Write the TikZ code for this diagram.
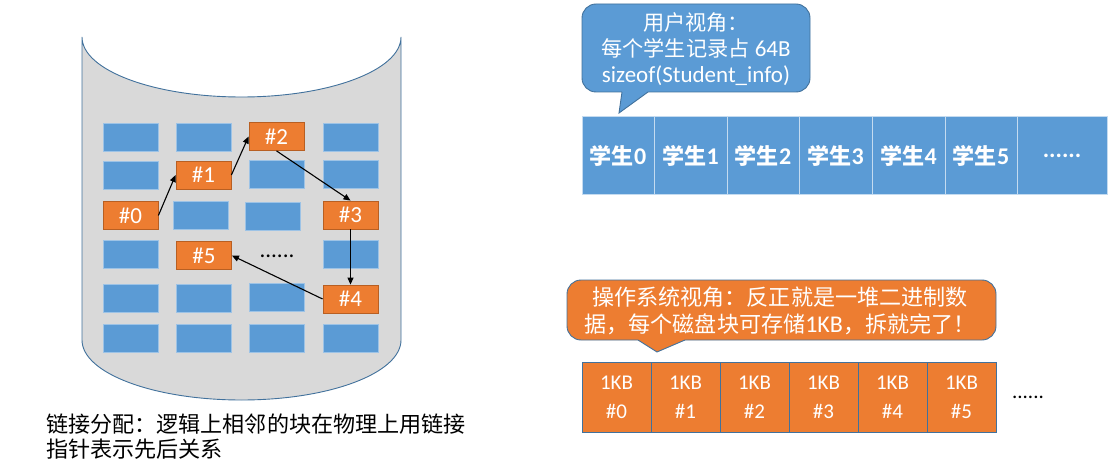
\documentclass[tikz,border=0pt]{standalone}
\usepackage{fontspec}
\setmainfont{Carlito}
\newfontfamily\cjk[Scale=0.92]{Noto Sans CJK SC}
\usetikzlibrary{arrows.meta}
\definecolor{cblue}{HTML}{5B9BD5}
\definecolor{corange}{HTML}{ED7D31}
\definecolor{cedge}{HTML}{41719C}
\definecolor{cgray}{HTML}{D9D9D9}
\definecolor{clight}{HTML}{9DC3E6}
\definecolor{cobord}{HTML}{B85F22}
\tikzset{
 blk/.style={fill=cblue, draw=clight, line width=0.6pt, minimum width=55pt, minimum height=28pt, inner sep=0pt},
 oblk/.style={fill=corange, draw=cobord, line width=0.8pt, minimum width=55pt, minimum height=28pt, inner sep=0pt, text=white, font=\fontsize{23}{26}\selectfont},
 link/.style={-{Triangle[length=7pt,width=6pt]}, line width=1.1pt},
 stud/.style={fill=cblue, draw=clight!60!white, line width=1pt, minimum height=77pt, inner sep=0pt, text=white, font=\fontsize{24}{26}\selectfont\bfseries},
 kb/.style={fill=corange, draw=cedge, line width=0.8pt, minimum width=69pt, minimum height=70pt, inner sep=0pt, text=white, align=center, font=\fontsize{21}{29}\selectfont},
 callout/.style={draw=cedge, line width=0.9pt, rounded corners=14pt},
 txt/.style={font=\fontsize{23}{26}\selectfont, inner sep=0pt},
}
\begin{document}
\begin{tikzpicture}[x=1pt,y=-1pt]
\useasboundingbox (0,0) rectangle (1119,476);
% cylinder
\draw[fill=cgray, draw=cedge, line width=0.9pt] (82,37) -- (82,340)
  arc[start angle=180, end angle=0, x radius=159.5, y radius=60] -- (401,37)
  arc[start angle=0, end angle=180, x radius=159.5, y radius=60] -- cycle;
% blue blocks
\node[blk] (b11) at (130.5,137.5) {};
\node[blk] (b12) at (203.5,137.5) {};
\node[blk] (b14) at (350.5,137) {};
\node[blk] (b21) at (130.5,175) {};
\node[blk] (b23) at (276.5,174.5) {};
\node[blk] (b24) at (350.5,174.5) {};
\node[blk] (b32) at (201,215.5) {};
\node[blk] (b33) at (272.5,216.5) {};
\node[blk] (b41) at (130.5,254.5) {};
\node[blk] (b44) at (350.5,254.5) {};
\node[blk] (b51) at (130.5,298) {};
\node[blk] (b52) at (203.5,298) {};
\node[blk] (b53) at (276.5,297.5) {};
\node[blk] (b61) at (130.5,338.5) {};
\node[blk] (b62) at (203.5,338.5) {};
\node[blk] (b63) at (276.5,338) {};
\node[blk] (b64) at (350.5,338) {};
% orange blocks
\node[oblk] (n0) at (130.5,215.5) {\#0};
\node[oblk] (n1) at (203.5,175) {\#1};
\node[oblk] (n2) at (276.5,136.5) {\#2};
\node[oblk] (n3) at (350.5,215) {\#3};
\node[oblk] (n4) at (350.5,299) {\#4};
\node[oblk] (n5) at (204,255.5) {\#5};
\node[txt] (dots1) at (277,256) {......};
% links
\draw[link] (n0.east) -- (n1.west);
\draw[link] (n1.east) -- (n2.west);
\draw[link] (n2.south) -- (n3.north);
\draw[link] (n3.south) -- (n4.north);
\draw[link] (n4.west) -- (n5.east);
% caption
\node[anchor=west, align=left, font=\fontsize{24}{25}\selectfont, inner sep=0pt] (cap) at (46,437)
  {{\cjk 链接分配：逻辑上相邻的块在物理上用链接}\\{\cjk 指针表示先后关系}};
% user view callout
\draw[callout, fill=cblue] (582,4) rectangle (810,92);
\fill[cblue] (622,90) -- (622,92) -- (619,113) -- (648,92) -- (648,90) -- cycle;
\draw[cedge, line width=0.9pt] (622,92) -- (619,113) -- (648,92);
\node[txt, align=center, text=white] (c1t) at (696,49)
  {{\cjk 用户视角：}\\{\cjk 每个学生记录占} 64B\\sizeof(Student\_info)};
% student row
\node[stud, minimum width=72pt] (s0) at (618,155.5) {{\cjk 学生}0};
\node[stud, minimum width=73pt] (s1) at (690.5,155.5) {{\cjk 学生}1};
\node[stud, minimum width=72pt] (s2) at (763,155.5) {{\cjk 学生}2};
\node[stud, minimum width=73pt] (s3) at (835.5,155.5) {{\cjk 学生}3};
\node[stud, minimum width=73pt] (s4) at (908.5,155.5) {{\cjk 学生}4};
\node[stud, minimum width=72pt] (s5) at (981,155.5) {{\cjk 学生}5};
\node[stud, minimum width=90pt] (s6) at (1062,155.5) {......};
% OS view callout
\draw[callout, fill=corange] (567,280) rectangle (996,340);
\fill[corange] (638,338) -- (638,340) -- (657,352) -- (685,340) -- (685,338) -- cycle;
\draw[cedge, line width=0.9pt] (638,340) -- (657,352) -- (685,340);
\node[txt, align=center, text=white, font=\fontsize{24}{27}\selectfont] (c2t) at (780,311)
  {{\cjk 操作系统视角：反正就是一堆二进制数}\\{\cjk 据，每个磁盘块可存储}1KB{\cjk ，拆就完了！}};
% KB row
\node[kb] (k0) at (616.5,397) {1KB\\\#0};
\node[kb] (k1) at (685.5,397) {1KB\\\#1};
\node[kb] (k2) at (754.5,397) {1KB\\\#2};
\node[kb] (k3) at (823.5,397) {1KB\\\#3};
\node[kb] (k4) at (892.5,397) {1KB\\\#4};
\node[kb] (k5) at (961.5,397) {1KB\\\#5};
\node[txt, font=\fontsize{21}{26}\selectfont] (dots2) at (1028,397) {......};
\end{tikzpicture}
\end{document}
